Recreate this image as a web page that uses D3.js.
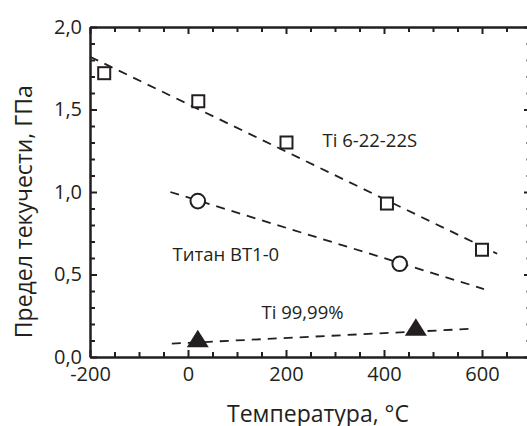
<!DOCTYPE html>
<html>
<head>
<meta charset="utf-8">
<script src="https://cdn.jsdelivr.net/npm/d3@7"></script>
<style>
  html, body { margin: 0; padding: 0; background: #fff; overflow: hidden; }
  svg { display: block; }
  text { font-family: "Open Sans", sans-serif; fill: #231f20; }
</style>
</head>
<body>
<svg id="chart" width="527" height="426"></svg>
<script>
// ---- data ----
const squareTemps = [-171, 21, 201, 406, 600];
const squareVals  = [1.72, 1.55, 1.30, 0.93, 0.65];
const circleTemps = [20, 432];
const circleVals  = [0.945, 0.565];
const triangleTemps = [20, 465];
const triangleVals  = [0.11, 0.18];

const squareFitT = [-200, 631];
const squareFitV = [1.82, 0.626];
const circleFitT = [-36, 604];
const circleFitV = [1.0, 0.412];
const triangleFitT = [-33, 573];
const triangleFitV = [0.081, 0.17];

const xMajorTicks = [-200, 0, 200, 400, 600];
const yMajorTicks = [0, 0.5, 1.0, 1.5, 2.0];

const labelSquares = "Ti 6-22-22S";
const labelCircles = "Титан ВТ1-0";
const labelTriangles = "Ti 99,99%";
const xTitle = "Температура, °C";
const yTitle = "Предел текучести, ГПа";

// ---- layout ----
const svg = d3.select("#chart");
const ink = "#231f20";
const x = d3.scaleLinear().domain([-200, 700]).range([90, 531]);
const y = d3.scaleLinear().domain([0, 2]).range([357, 27]);

const xMinor = d3.range(-200, 701, 50).filter(v => !xMajorTicks.includes(v));
const yMinor = d3.range(0, 21, 1).map(v => v / 10).filter(v => !yMajorTicks.some(m => Math.abs(m - v) < 1e-9));
const fmtY = d => d3.format(".1f")(d).replace(".", ",");

function styleAxis(g) {
  g.selectAll("path.domain").attr("stroke", ink).attr("stroke-width", 2);
  g.selectAll(".tick line").attr("stroke", ink).attr("stroke-width", 2);
  g.selectAll(".tick text").style("font-family", "Open Sans, sans-serif").attr("fill", ink);
}

// bottom axis
const gB = svg.append("g").attr("transform", `translate(0,${y(0)})`)
  .call(d3.axisBottom(x).tickValues(xMajorTicks).tickSize(-7).tickSizeOuter(0).tickFormat(d => String(d)));
gB.selectAll(".tick text").attr("y", 9.5).attr("dy", "0.71em").style("font-size", "20px");
styleAxis(gB);
const gBm = svg.append("g").attr("transform", `translate(0,${y(0)})`)
  .call(d3.axisBottom(x).tickValues(xMinor).tickSize(-5).tickSizeOuter(0).tickFormat(""));
styleAxis(gBm);

// top axis
const gT = svg.append("g").attr("transform", `translate(0,${y(2)})`)
  .call(d3.axisTop(x).tickValues(xMajorTicks).tickSize(-7).tickSizeOuter(0).tickFormat(""));
styleAxis(gT);
const gTm = svg.append("g").attr("transform", `translate(0,${y(2)})`)
  .call(d3.axisTop(x).tickValues(xMinor).tickSize(-5).tickSizeOuter(0).tickFormat(""));
styleAxis(gTm);

// left axis
const gL = svg.append("g").attr("transform", `translate(${x(-200)},0)`)
  .call(d3.axisLeft(y).tickValues(yMajorTicks).tickSize(-7).tickSizeOuter(0).tickPadding(8).tickFormat(fmtY));
gL.selectAll(".tick text").style("font-size", "20px");
styleAxis(gL);
const gLm = svg.append("g").attr("transform", `translate(${x(-200)},0)`)
  .call(d3.axisLeft(y).tickValues(yMinor).tickSize(-5).tickSizeOuter(0).tickFormat(""));
styleAxis(gLm);

// right axis (its line falls just outside the picture; only tick tips show)
const gR = svg.append("g").attr("transform", `translate(${x(700)},0)`)
  .call(d3.axisRight(y).tickValues(yMajorTicks).tickSize(-7).tickSizeOuter(0).tickFormat(""));
styleAxis(gR);
const gRm = svg.append("g").attr("transform", `translate(${x(700)},0)`)
  .call(d3.axisRight(y).tickValues(yMinor).tickSize(-5).tickSizeOuter(0).tickFormat(""));
styleAxis(gRm);
gRm.selectAll(".tick line").attr("stroke-opacity", 0.5);

// fit lines
const line = d3.line().x(d => x(d[0])).y(d => y(d[1]));
[[squareFitT, squareFitV], [circleFitT, circleFitV], [triangleFitT, triangleFitV]].forEach(([ts, vs]) => {
  svg.append("path")
    .datum(ts.map((t, i) => [t, vs[i]]))
    .attr("d", line)
    .attr("fill", "none")
    .attr("stroke", ink)
    .attr("stroke-width", 1.8)
    .attr("stroke-dasharray", "9,7");
});

// markers
svg.append("g").selectAll("rect")
  .data(squareTemps.map((t, i) => [t, squareVals[i]]))
  .join("rect")
  .attr("x", d => x(d[0]) - 6).attr("y", d => y(d[1]) - 6)
  .attr("width", 12).attr("height", 12)
  .attr("fill", "#fff").attr("stroke", ink).attr("stroke-width", 2);

svg.append("g").selectAll("circle")
  .data(circleTemps.map((t, i) => [t, circleVals[i]]))
  .join("circle")
  .attr("cx", d => x(d[0])).attr("cy", d => y(d[1]))
  .attr("r", 7.3)
  .attr("fill", "#fff").attr("stroke", ink).attr("stroke-width", 2);

svg.append("g").selectAll("path")
  .data(triangleTemps.map((t, i) => [t, triangleVals[i]]))
  .join("path")
  .attr("transform", d => `translate(${x(d[0])},${y(d[1])})`)
  .attr("d", "M0,-9L11,8.5L-11,8.5Z")
  .attr("fill", ink);

// series labels
svg.append("text").attr("x", 322.5).attr("y", 146.7).style("font-size", "18.5px").text(labelSquares);
svg.append("text").attr("x", 172.5).attr("y", 260.7).style("font-size", "18.5px").text(labelCircles);
svg.append("text").attr("x", 261.5).attr("y", 318.5).style("font-size", "18.5px").text(labelTriangles);

// axis titles
svg.append("text").attr("x", 318).attr("y", 421.5).attr("text-anchor", "middle")
  .style("font-size", "23px").text(xTitle);
svg.append("text").attr("transform", `translate(31.5,211.7) rotate(-90)`).attr("text-anchor", "middle")
  .style("font-size", "23px").text(yTitle);
</script>
</body>
</html>
